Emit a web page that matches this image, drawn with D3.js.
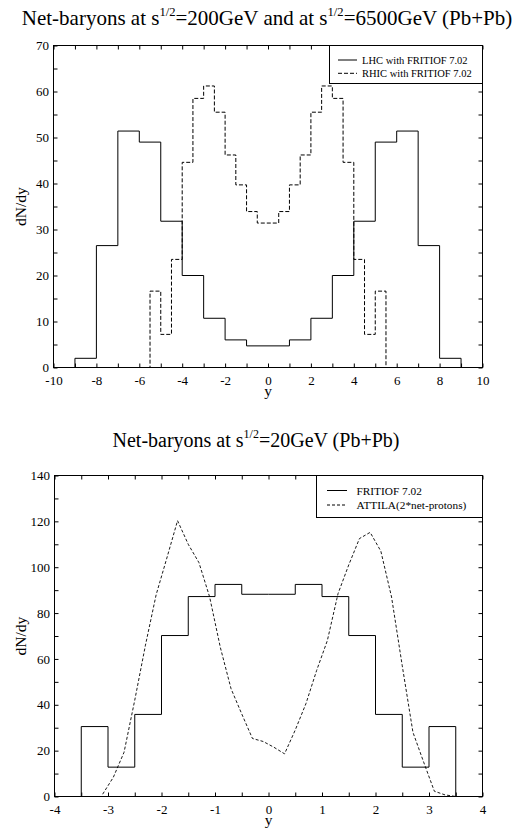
<!DOCTYPE html>
<html><head><meta charset="utf-8">
<script src="https://cdn.jsdelivr.net/npm/d3@7"></script>
<style>
body{margin:0;background:#fff}
svg{display:block}
text{font-family:"Liberation Serif","Times New Roman",Times,serif;fill:#000}
</style>
</head><body>
<svg id="c" width="517" height="834" font-family="Liberation Serif"></svg>
<script>
// ---------- top panel: RHIC / LHC ----------
const lhcEdges  = [-9,-8,-7,-6,-5,-4,-3,-2,-1,0,1,2,3,4,5,6,7,8,9];
const lhcValues = [2,26.5,51.4,49,31.8,20,10.7,6,4.7,4.7,6,10.7,20,31.8,49,51.4,26.5,2];
const rhicEdges  = [-7,-5.5,-5,-4.5,-4,-3.5,-3,-2.5,-2,-1.5,-1,-0.5,0,0.5,1,1.5,2,2.5,3,3.5,4,4.5,5,5.5,7];
const rhicValues = [0,16.6,7.2,23.5,44.6,58.5,61.2,55.5,46.2,39.7,33.9,31.4,31.4,33.9,39.7,46.2,55.5,61.2,58.5,44.6,23.5,7.2,16.6,0];
const topXTicks = [-10,-8,-6,-4,-2,0,2,4,6,8,10];
const topXMinor = [-10,-9,-8,-7,-6,-5,-4,-3,-2,-1,0,1,2,3,4,5,6,7,8,9,10];
const topYTicks = [0,10,20,30,40,50,60,70];
const topYMinor = [0,5,10,15,20,25,30,35,40,45,50,55,60,65,70];
const topLegend = ["LHC with FRITIOF 7.02","RHIC with FRITIOF 7.02"];

// ---------- bottom panel: SPS ----------
const fritiofEdges  = [-3.5,-3,-2.5,-2,-1.5,-1,-0.5,0,0.5,1,1.5,2,2.5,3,3.5];
const fritiofValues = [30.5,12.8,35.8,70.2,87.2,92.5,88.2,88.2,92.5,87.2,70.2,35.8,12.8,30.5];
const attilaY      = [-3.1,-2.9,-2.7,-2.5,-2.3,-2.1,-1.9,-1.7,-1.5,-1.3,-1.1,-0.9,-0.7,-0.5,-0.3,-0.1,0.1,0.3,0.5,0.7,0.9,1.1,1.3,1.5,1.7,1.9,2.1,2.3,2.5,2.7,2.9,3.1,3.3,3.5];
const attilaValues = [1,8.4,19.3,42,66,88,104,120.3,110,102,87,65,47,36,25.3,24,21.5,18.6,29,40.5,55,68,88.5,101,112.5,115.2,107,87,57,28,15,2.3,0.7,0];
const botXTicks = [-4,-3,-2,-1,0,1,2,3,4];
const botXMinor = [-4,-3.5,-3,-2.5,-2,-1.5,-1,-0.5,0,0.5,1,1.5,2,2.5,3,3.5,4];
const botYTicks = [0,20,40,60,80,100,120,140];
const botYMinor = [0,10,20,30,40,50,60,70,80,90,100,110,120,130,140];
const botLegend = ["FRITIOF 7.02","ATTILA(2*net-protons)"];

const svg = d3.select("#c");
const SERIF = "'Liberation Serif','Times New Roman',Times,serif";

function stepPoints(edges, vals){
  const pts = [[edges[0],0]];
  vals.forEach((v,i)=>{ pts.push([edges[i],v]); pts.push([edges[i+1],v]); });
  pts.push([edges[edges.length-1],0]);
  return pts;
}

function panel(o){
  const g = svg.append("g");
  const x = d3.scaleLinear().domain(o.xDom).range([o.left,o.right]);
  const y = d3.scaleLinear().domain(o.yDom).range([o.bottom,o.top]);
  const fmt = d=>d3.format("d")(d).replace("\u2212","-");
  const mk = (axis, tr)=>{
    const a=g.append("g").attr("transform",tr).call(axis);
    a.attr("font-family",SERIF).attr("font-size",null);
    a.select(".domain").remove();
    a.selectAll("line").attr("stroke","#000");
    return a;
  };
  // minor (unlabelled) inward ticks on all four sides
  mk(d3.axisBottom(x).tickValues(o.xMinor).tickSizeInner(-4).tickSizeOuter(0).tickFormat(""), `translate(0,${o.bottom})`);
  mk(d3.axisTop(x).tickValues(o.xMinor).tickSizeInner(-4).tickSizeOuter(0).tickFormat(""), `translate(0,${o.top})`);
  mk(d3.axisLeft(y).tickValues(o.yMinor).tickSizeInner(-4).tickSizeOuter(0).tickFormat(""), `translate(${o.left},0)`);
  mk(d3.axisRight(y).tickValues(o.yMinor).tickSizeInner(-4).tickSizeOuter(0).tickFormat(""), `translate(${o.right},0)`);
  // labelled axes
  const xa = mk(d3.axisBottom(x).tickValues(o.xTicks).tickSizeInner(0).tickSizeOuter(0).tickPadding(8.5).tickFormat(fmt), `translate(0,${o.bottom})`);
  xa.selectAll("text").attr("font-size",13);
  xa.selectAll("line").remove();
  const ya = mk(d3.axisLeft(y).tickValues(o.yTicks).tickSizeInner(0).tickSizeOuter(0).tickPadding(4.5).tickFormat(fmt), `translate(${o.left},0)`);
  ya.selectAll("text").attr("font-size",13);
  ya.selectAll("line").remove();
  // frame
  g.append("rect").attr("x",o.left).attr("y",o.top).attr("width",o.right-o.left).attr("height",o.bottom-o.top)
    .attr("fill","none").attr("stroke","#000").attr("stroke-width",1);
  // axis titles
  g.append("text").attr("x",(o.left+o.right)/2).attr("y",o.bottom+28).attr("text-anchor","middle").attr("font-size",15.5).text("y");
  g.append("text").attr("transform",`translate(${o.ylabX},${(o.top+o.bottom)/2}) rotate(-90)`).attr("text-anchor","middle").attr("font-size",15.5).text("dN/dy");
  // title with superscripts
  const t = g.append("text").attr("x",o.titleX).attr("y",o.titleY).attr("text-anchor","middle").attr("font-size",o.titleSize);
  o.title.forEach((part,i)=>{
    if(i>0){ t.append("tspan").attr("font-size",o.titleSize*0.6).attr("dy",-9).text("1/2"); t.append("tspan").attr("dy",9).text(part); }
    else t.append("tspan").text(part);
  });
  return {g,x,y};
}

const line = (sc)=>d3.line().x(d=>sc.x(d[0])).y(d=>sc.y(d[1]));

// ---------- top ----------
const T = panel({xDom:[-10,10], yDom:[0,70], left:53.5, right:482.5, top:45.5, bottom:367.5,
  xTicks:topXTicks, xMinor:topXMinor, yTicks:topYTicks, yMinor:topYMinor, ylabX:26,
  title:["Net-baryons at s","=200GeV and at s","=6500GeV (Pb+Pb)"], titleX:267, titleY:25, titleSize:21});
T.g.append("path").attr("d",line(T)(stepPoints(lhcEdges,lhcValues))).attr("fill","none").attr("stroke","#000").attr("stroke-width",1);
T.g.append("path").attr("d",line(T)(stepPoints(rhicEdges,rhicValues))).attr("fill","none").attr("stroke","#000").attr("stroke-width",1).attr("stroke-dasharray","4,2");
T.g.append("rect").attr("x",329.5).attr("y",45.5).attr("width",153).attr("height",38).attr("fill","#fff").attr("stroke","#000");
topLegend.forEach((s,i)=>{
  const yy = 60 + i*13.3;
  T.g.append("line").attr("x1",338).attr("x2",357).attr("y1",yy).attr("y2",yy).attr("stroke","#000").attr("stroke-dasharray",i?"4,2":null);
  T.g.append("text").attr("x",362).attr("y",yy+3.5).attr("font-size",10.5).text(s);
});

// ---------- bottom ----------
const B = panel({xDom:[-4,4], yDom:[0,140], left:54.5, right:482.5, top:475.5, bottom:796.5,
  xTicks:botXTicks, xMinor:botXMinor, yTicks:botYTicks, yMinor:botYMinor, ylabX:26,
  title:["Net-baryons at s","=20GeV (Pb+Pb)"], titleX:256, titleY:447, titleSize:20});
B.g.append("path").attr("d",line(B)(stepPoints(fritiofEdges,fritiofValues))).attr("fill","none").attr("stroke","#000").attr("stroke-width",1);
B.g.append("path").attr("d",line(B)(attilaY.map((v,i)=>[v,attilaValues[i]]))).attr("fill","none").attr("stroke","#000").attr("stroke-width",0.9).attr("stroke-dasharray","3,2");
B.g.append("rect").attr("x",316.5).attr("y",475.5).attr("width",166).attr("height",42).attr("fill","#fff").attr("stroke","#000");
botLegend.forEach((s,i)=>{
  const yy = 490.5 + i*14.5;
  B.g.append("line").attr("x1",327).attr("x2",347).attr("y1",yy).attr("y2",yy).attr("stroke","#000").attr("stroke-dasharray",i?"3,2":null);
  B.g.append("text").attr("x",356.5).attr("y",yy+4).attr("font-size",11.3).text(s);
});
</script>
</body></html>
